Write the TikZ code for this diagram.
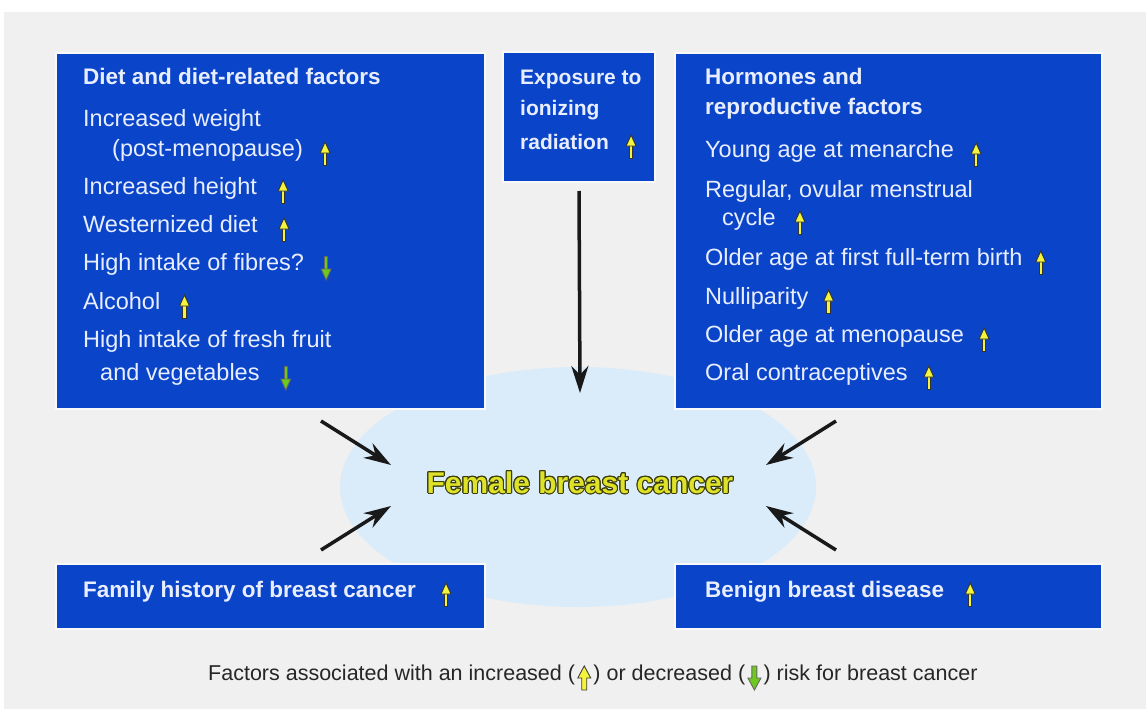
\documentclass[tikz,border=0pt]{standalone}
\usepackage{fontspec}
\setmainfont{Liberation Sans}
\usepackage{contour}
\usetikzlibrary{arrows.meta,positioning,shapes.geometric}
\definecolor{boxblue}{RGB}{10,68,200}
\definecolor{pagegray}{RGB}{240,240,240}
\definecolor{blobblue}{RGB}{218,236,250}
\definecolor{upyel}{RGB}{244,244,60}
\definecolor{downgrn}{RGB}{110,200,30}
\definecolor{txtwhite}{RGB}{232,238,255}
\definecolor{titleyel}{RGB}{222,226,40}
\definecolor{titledark}{RGB}{60,60,10}
\contourlength{1.1pt}
\tikzset{
  riskup/.pic={
    \draw[line width=4.4pt,black!80] (0,12) -- (0,-2);
    \draw[line width=2.2pt,upyel] (0,11) -- (0,-2);
    \filldraw[fill=upyel,draw=black!80,line width=0.9pt] (-5,-1) -- (0,-12) -- (5,-1) -- cycle;
  },
  riskdown/.pic={
    \draw[line width=4.4pt,black!60] (0,-12) -- (0,2);
    \draw[line width=2.2pt,downgrn] (0,-11) -- (0,2);
    \filldraw[fill=downgrn,draw=black!60,line width=0.9pt] (-5,1) -- (0,12) -- (5,1) -- cycle;
  },
  keyup/.pic={
    \filldraw[fill=upyel,draw=black!75,line width=0.9pt] (-2.5,12) -- (2.5,12) -- (2.5,0) -- (6.5,0) -- (0,-12) -- (-6.5,0) -- (-2.5,0) -- cycle;
  },
  keydown/.pic={
    \filldraw[fill=downgrn,draw=black!60,line width=0.9pt] (-2.5,-12) -- (2.5,-12) -- (2.5,0) -- (6.5,0) -- (0,12) -- (-6.5,0) -- (-2.5,0) -- cycle;
  }
}
\begin{document}
\begin{tikzpicture}
    [x=1pt,y=-1pt,
    box/.style={shape=rectangle,fill=boxblue,draw=white!60!pagegray,line width=2pt},
    head/.style={anchor=west,inner sep=0pt,text=txtwhite,font=\fontsize{22.5}{26}\selectfont\bfseries,text height=0.72em,text depth=0.2em},
    item/.style={anchor=west,inner sep=0pt,text=txtwhite,font=\fontsize{23.5}{27}\selectfont,text height=0.72em,text depth=0.2em},
    keytext/.style={inner sep=0pt,text=black!85,font=\fontsize{21.5}{24}\selectfont,text height=0.72em,text depth=0.2em},
    arc/.style={-{Stealth[length=27pt,width=17pt]},line width=3.5pt,black!90}]

    \useasboundingbox (0,0) rectangle (1146,709);
    \fill[white] (0,0) rectangle (1146,709);
    \fill[pagegray] (4,12) rectangle (1146,709);

    \node (blob) [ellipse,fill=blobblue,minimum width=476pt,minimum height=240pt] at (578,487) {};

    \node (diet) [box,minimum width=429pt,minimum height=356pt] at (270.5,231) {};
    \node (rad) [box,minimum width=152pt,minimum height=130pt] at (579,117) {};
    \node (horm) [box,minimum width=427pt,minimum height=356pt] at (888.5,231) {};
    \node (family) [box,minimum width=429pt,minimum height=65pt] at (270.5,596.5) {};
    \node (benign) [box,minimum width=427pt,minimum height=65pt] at (888.5,596.5) {};

    % diet
    \node (dtitle) [head] at (83,82) {Diet and diet-related factors};
    \node (d1) [item] at (83,124) {Increased weight};
    \node (d2) [item] at (112,154) {(post-menopause)};
    \node (d3) [item] at (83,192) {Increased height};
    \node (d4) [item] at (83,230) {Westernized diet};
    \node (d5) [item] at (83,268) {High intake of fibres?};
    \node (d6) [item] at (83,307) {Alcohol};
    \node (d7) [item] at (83,345) {High intake of fresh fruit};
    \node (d8) [item] at (100,378) {and vegetables};
    \pic at ([xshift=22pt]d2.east) {riskup};
    \pic at ([xshift=26pt]d3.east) {riskup};
    \pic at ([xshift=26pt]d4.east) {riskup};
    \pic at ([xshift=22pt]d5.east) {riskdown};
    \pic at ([xshift=24pt]d6.east) {riskup};
    \pic at ([xshift=26pt]d8.east) {riskdown};

    % radiation
    \node (r1) [head,font=\fontsize{21}{25}\selectfont\bfseries] at (520,82) {Exposure to};
    \node (r2) [head,font=\fontsize{21}{25}\selectfont\bfseries] at (520,113) {ionizing};
    \node (r3) [head,font=\fontsize{21}{25}\selectfont\bfseries] at (520,147) {radiation};
    \pic at ([xshift=22pt]r3.east) {riskup};

    % hormones
    \node (h0) [head] at (705,82) {Hormones and};
    \node (h00) [head] at (705,112) {reproductive factors};
    \node (h1) [item] at (705,155) {Young age at menarche};
    \node (h2) [item] at (705,195) {Regular, ovular menstrual};
    \node (h3) [item] at (722,223) {cycle};
    \node (h4) [item] at (705,263) {Older age at first full-term birth};
    \node (h5) [item] at (705,302) {Nulliparity};
    \node (h6) [item] at (705,340) {Older age at menopause};
    \node (h7) [item] at (705,378) {Oral contraceptives};
    \pic at ([xshift=22pt]h1.east) {riskup};
    \pic at ([xshift=24pt]h3.east) {riskup};
    \pic at ([xshift=18pt]h4.east) {riskup};
    \pic at ([xshift=20pt]h5.east) {riskup};
    \pic at ([xshift=20pt]h6.east) {riskup};
    \pic at ([xshift=21pt]h7.east) {riskup};

    \node (f1) [head] at (83,595) {Family history of breast cancer};
    \pic at ([xshift=30pt]f1.east) {riskup};
    \node (b1) [head] at (705,595) {Benign breast disease};
    \pic at ([xshift=26pt]b1.east) {riskup};

    \node (cancer) [font=\fontsize{30}{34}\selectfont\bfseries] at (580,483)
      {\contour{titledark}{\textcolor{titleyel}{Female breast cancer}}};

    \coordinate (radTip) at (580,393);
    \coordinate (dietTail) at (321,421);
    \coordinate (dietTip) at (391,465);
    \coordinate (famTail) at (321,550);
    \coordinate (famTip) at (391,506);
    \coordinate (hormTail) at (836,421);
    \coordinate (hormTip) at (766,465);
    \coordinate (benTail) at (836,550);
    \coordinate (benTip) at (766,506);
    \draw [arc] ([yshift=-8pt]rad.south) -- (radTip);
    \draw [arc] (dietTail) -- (dietTip);
    \draw [arc] (famTail) -- (famTip);
    \draw [arc] (hormTail) -- (hormTip);
    \draw [arc] (benTail) -- (benTip);

    % key
    \node (key1) [keytext,anchor=west] at (208,678) {Factors associated with an increased (};
    \pic at ([xshift=9pt]key1.east) {keyup};
    \node (key2) [keytext,right=18pt of key1] {) or decreased (};
    \pic at ([xshift=9pt]key2.east) {keydown};
    \node (key3) [keytext,right=18pt of key2] {) risk for breast cancer};

\end{tikzpicture}
\end{document}
